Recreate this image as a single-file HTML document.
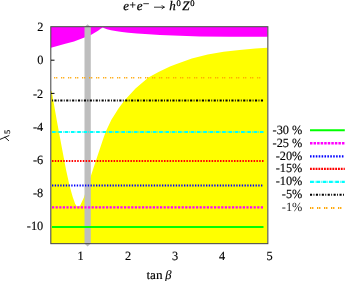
<!DOCTYPE html>
<html><head><meta charset="utf-8">
<style>
html,body{margin:0;padding:0;background:#fff;}
body{width:346px;height:281px;overflow:hidden;position:relative;font-family:"Liberation Serif",serif;color:#000;}
svg{position:absolute;left:0;top:0;will-change:transform;}
text{font-family:"Liberation Serif",serif;fill:#000;text-rendering:geometricPrecision;stroke:#000;stroke-width:0.14px;}
g.b text{stroke-width:0.25px;}
</style></head><body>
<svg width="346" height="281" viewBox="0 0 346 281">
<rect width="346" height="281" fill="#fff"/>
<!-- yellow -->
<path d="M51,91 L51.7,91.2 L56.7,120 L62.3,150 L66.1,170 L69.6,186 L72.8,197.2 L75.2,204 L76.8,206.3 L78.4,206.6 L80.2,205.5 L84,197.2 L90.7,176.4 L92.8,170 L102.8,140 L105.7,131.7 L111.4,119.8 L118.5,108.4 L124.2,100.7 L135.5,88.5 L148.4,77.6 L159,71.8 L170,66.5 L175.9,64.3 L191.8,58.6 L207.7,54.5 L223.6,51.8 L239.5,50 L255.4,48.5 L267.5,47.7 L267.5,243.5 L51,243.5 Z" fill="#ffff00"/>
<!-- magenta -->
<path d="M51,27 L51,47.8 L65.3,43.7 L74,41.4 L84.4,37.5 L91.3,34.7 L98,30.7 L101,28.5 L102.8,27.4 L105,28.4 L107,29.3 L111,30.3 L117,31.2 L122,31.9 L128.4,32.7 L137,33.6 L145,34.1 L160,34.9 L180,35.8 L200,36.5 L230,36.8 L267.5,36.7 L267.5,27 Z" fill="#ff00ff"/>
<!-- gray bar -->
<path d="M84.5,27 L87.6,24.2 L90.8,27 L90.8,243.5 L87.6,246.6 L84.5,243.5 Z" fill="#bebebe"/>

<g fill="none">
<line x1="54.1" x2="263.5" y1="77.8" y2="77.8" stroke="#ffa500" stroke-width="1.6" stroke-dasharray="1.15 0.9 1.15 3.8"/>
<line x1="52" x2="263.5" y1="100.5" y2="100.5" stroke="#000" stroke-width="2.0" stroke-dasharray="2.1 1.4 0.9 1.5" stroke-dashoffset="3.5"/>
<line x1="52" x2="263.5" y1="132.0" y2="132.0" stroke="#00ffff" stroke-width="2.0" stroke-dasharray="3.7 1.0 0.6 1.0"/>
<line x1="52" x2="263.5" y1="161.0" y2="161.0" stroke="#ff0000" stroke-width="2.0" stroke-dasharray="1.5 1.3"/>
<line x1="52" x2="263.5" y1="185.4" y2="185.4" stroke="#0000ff" stroke-width="2.0" stroke-dasharray="1.35 1.4"/>
<line x1="52" x2="263.5" y1="207.4" y2="207.4" stroke="#ff00ff" stroke-width="2.2" stroke-dasharray="2.2 1.4"/>
<line x1="52" x2="263.5" y1="227" y2="227" stroke="#00ff00" stroke-width="1.9"/>
</g>
<!-- frame -->
<rect x="50.8" y="26.7" width="217.05" height="216.95" fill="none" stroke="#484848" stroke-width="1.05"/>
<g stroke="#000" stroke-width="1">
<line x1="51" x2="54.5" y1="60.2" y2="60.2"/>
<line x1="51" x2="54.5" y1="93.4" y2="93.4"/>
</g>
<g fill="none">
<line x1="310" x2="344.8" y1="130.2" y2="130.2" stroke="#00ff00" stroke-width="2.1"/>
<line x1="310" x2="344.8" y1="143.2" y2="143.2" stroke="#ff00ff" stroke-width="2.5" stroke-dasharray="2.5 1.05"/>
<line x1="310" x2="344.8" y1="156.3" y2="156.3" stroke="#0000ff" stroke-width="2.3" stroke-dasharray="1.55 1.35"/>
<line x1="310" x2="344.8" y1="168.9" y2="168.9" stroke="#ff0000" stroke-width="2.3" stroke-dasharray="1.85 0.95"/>
<line x1="310" x2="344.8" y1="181.8" y2="181.8" stroke="#00ffff" stroke-width="2.2" stroke-dasharray="3.9 0.9 0.6 0.9"/>
<line x1="310" x2="344.8" y1="194.8" y2="194.8" stroke="#000" stroke-width="2.1" stroke-dasharray="2.1 1.4 0.9 1.5"/>
<line x1="310" x2="344.8" y1="208.0" y2="208.0" stroke="#ffa500" stroke-width="1.8" stroke-dasharray="1.3 0.8 1.3 3.6"/>
</g>
<text transform="translate(43.3,31.2) scale(0.98,1)" text-anchor="end" font-size="12.6" >2</text>
<text transform="translate(43.3,64.4) scale(0.98,1)" text-anchor="end" font-size="12.6" >0</text>
<text transform="translate(43.3,97.60000000000001) scale(0.98,1)" text-anchor="end" font-size="12.6" >-2</text>
<text transform="translate(43.3,130.79999999999998) scale(0.98,1)" text-anchor="end" font-size="12.6" >-4</text>
<text transform="translate(43.3,164.0) scale(0.98,1)" text-anchor="end" font-size="12.6" >-6</text>
<text transform="translate(43.3,197.2) scale(0.98,1)" text-anchor="end" font-size="12.6" >-8</text>
<text transform="translate(43.3,230.39999999999998) scale(0.98,1)" text-anchor="end" font-size="12.6" >-10</text>
<text transform="translate(80.5,260.4) scale(0.98,1)" text-anchor="middle" font-size="12.6" >1</text>
<text transform="translate(128,260.4) scale(0.98,1)" text-anchor="middle" font-size="12.6" >2</text>
<text transform="translate(175,260.4) scale(0.98,1)" text-anchor="middle" font-size="12.6" >3</text>
<text transform="translate(222,260.4) scale(0.98,1)" text-anchor="middle" font-size="12.6" >4</text>
<text transform="translate(269.5,260.4) scale(0.98,1)" text-anchor="middle" font-size="12.6" >5</text>
<text transform="translate(302.4,133.7) scale(0.98,1)" text-anchor="end" font-size="12.6" >-30 %</text>
<text transform="translate(302.4,146.6) scale(0.98,1)" text-anchor="end" font-size="12.6" >-25 %</text>
<text transform="translate(302.4,159.5) scale(0.98,1)" text-anchor="end" font-size="12.6" >-20%</text>
<text transform="translate(302.4,172.39999999999998) scale(0.98,1)" text-anchor="end" font-size="12.6" >-15%</text>
<text transform="translate(302.4,185.29999999999998) scale(0.98,1)" text-anchor="end" font-size="12.6" >-10%</text>
<text transform="translate(302.4,198.2) scale(0.98,1)" text-anchor="end" font-size="12.6" >-5%</text>
<text transform="translate(302.4,211.1) scale(0.98,1)" text-anchor="end" font-size="12.6" style="stroke:none;fill:#222">-1%</text>
<g class="b" font-size="13" font-style="italic">
<text x="123.2" y="10.2">e</text>
<text x="136.8" y="10.2">e</text>
<text x="169.2" y="10.2">h</text>
<text x="182.2" y="10.2">Z</text>
</g>
<g class="b" font-size="8.5">
<text x="176.4" y="5.9">0</text>
<text x="190.2" y="5.9">0</text>
</g>
<g stroke="#000" stroke-width="0.8" fill="none">
<path d="M129.9,4.9 H135.5 M132.7,2.1 V7.7"/>
<path d="M143.3,3.7 H148.9"/>
<path d="M154,7.2 H164.3 M161.8,5.2 Q162.6,6.8 164.5,7.2 Q162.6,7.6 161.8,9.2"/>
</g>
<!-- x label -->
<text x="146.4" y="278.7" font-size="12.5" textLength="16.2" lengthAdjust="spacingAndGlyphs">tan</text>
<text x="165.2" y="278.7" font-size="12.5" font-style="italic">β</text>
<!-- y label: lambda drawn as path -->
<g stroke="#000" stroke-width="0.9" fill="none" stroke-linecap="round">
<path d="M-0.5,139.6 L8.9,135.6 M5.0,137.3 L8.6,140.6"/>
</g>
<text transform="translate(10.1,134) rotate(-90)" font-size="8.3" style="stroke-width:0.2px">5</text>
</svg>
</body></html>
